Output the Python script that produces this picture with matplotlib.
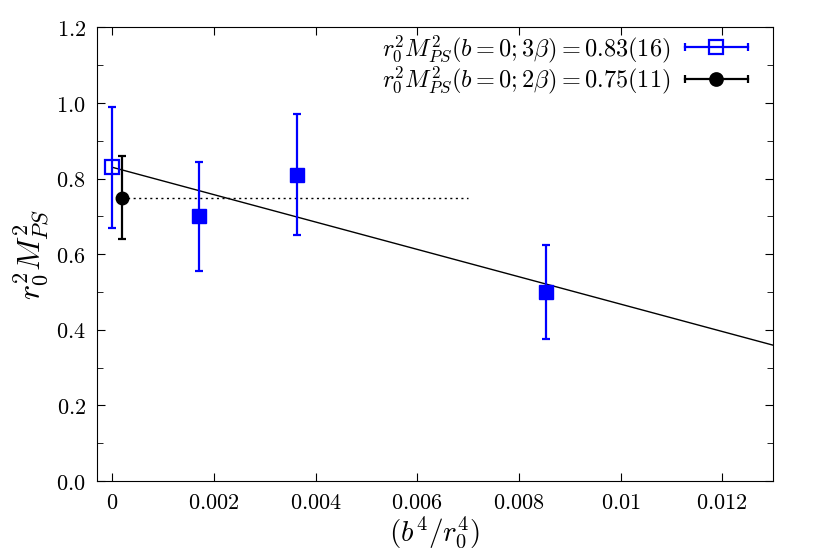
import matplotlib
matplotlib.use("Agg")
import matplotlib.pyplot as plt
import numpy as np
from matplotlib.ticker import MultipleLocator, FuncFormatter
from matplotlib.legend_handler import HandlerBase
from matplotlib.lines import Line2D

plt.rcParams['mathtext.fontset'] = 'cm'
plt.rcParams['font.family'] = ['DejaVu Serif']

# Data
x_3beta = [0.0]
y_3beta = [0.83]
e_3beta = [0.16]

x_2beta = [0.0002]
y_2beta = [0.75]
e_2beta = [0.11]

x_fin = [0.00171, 0.00364, 0.00853]
y_fin = [0.70, 0.81, 0.50]
e_fin = [0.145, 0.16, 0.125]

fit_intercept = 0.83
fit_slope = -36.2
fit_x = [0.0, 0.013]
const_val = 0.75
const_x = [0.0002, 0.007]

label_3 = r'$r_0^2M_{PS}^2(b=0;3\beta)=0.83(16)$'
label_2 = r'$r_0^2M_{PS}^2(b=0;2\beta)=0.75(11)$'


class HorizErrHandler(HandlerBase):
    def __init__(self, color, marker, mfc, ms):
        super().__init__()
        self.color = color
        self.marker = marker
        self.mfc = mfc
        self.ms = ms

    def create_artists(self, legend, orig_handle, xdescent, ydescent, width,
                       height, fontsize, trans):
        y = height / 2.0 - ydescent
        x0 = -xdescent
        x1 = -xdescent + width
        line = Line2D([x0, x1], [y, y], color=self.color, lw=1.6)
        caps = Line2D([x0, x1], [y, y], ls='none', marker='|', ms=6,
                      mew=1.6, color=self.color)
        mk = Line2D([(x0 + x1) / 2], [y], ls='none', marker=self.marker,
                    ms=self.ms, mfc=self.mfc, mec=self.color, mew=1.6,
                    color=self.color)
        arts = [line, caps, mk]
        for a in arts:
            a.set_transform(trans)
        return arts


fig = plt.figure(figsize=(8.15, 5.55), dpi=100)
ax = fig.add_axes([0.119, 0.1333, 0.8295, 0.8173])

fx = np.array(fit_x)
ax.plot(fx, fit_intercept + fit_slope * fx, color='black', lw=1.0, zorder=1)
ax.plot(const_x, [const_val, const_val], color='black', lw=1.0, ls=(0, (1.5, 2.5)), zorder=1)

ax.errorbar(x_fin, y_fin, yerr=e_fin, fmt='s', color='blue', ms=9.5,
            capsize=3, elinewidth=1.6, capthick=1.6, zorder=3)
h3 = ax.errorbar(x_3beta, y_3beta, yerr=e_3beta, fmt='s', color='blue', mfc='none',
                 mew=1.6, ms=10, capsize=3, elinewidth=1.6, capthick=1.6, label=label_3, zorder=3)
h2 = ax.errorbar(x_2beta, y_2beta, yerr=e_2beta, fmt='o', color='black', ms=9,
                 capsize=3, elinewidth=1.6, capthick=1.6, label=label_2, zorder=3)

ax.set_xlim(-0.0003, 0.013)
ax.set_ylim(0.0, 1.2)
ax.xaxis.set_major_locator(MultipleLocator(0.002))
ax.yaxis.set_major_locator(MultipleLocator(0.2))
ax.yaxis.set_minor_locator(MultipleLocator(0.1))
ax.tick_params(which='both', direction='in', top=True, right=True, labelsize=16)
ax.tick_params(which='major', length=6, pad=8)
ax.tick_params(which='minor', length=4)

def fmt(v, pos):
    s = ('%.3f' % v).rstrip('0').rstrip('.')
    if abs(v) < 1e-12:
        s = '0'
    return r'$%s$' % s
def fmty(v, pos):
    return r'$%.1f$' % v
ax.xaxis.set_major_formatter(FuncFormatter(fmt))
ax.yaxis.set_major_formatter(FuncFormatter(fmty))

ax.set_xlabel(r'$(b^4/r_0^4)$', fontsize=21, labelpad=0)
ax.set_ylabel(r'$r_0^2M_{PS}^2$', fontsize=23, labelpad=4)

leg = ax.legend(handles=[h3, h2], loc='upper right', markerfirst=False, frameon=False,
                fontsize=17.5, handlelength=2.6, borderaxespad=0, borderpad=0,
                labelspacing=0.0, handletextpad=0.6,
                bbox_to_anchor=(748 / 815, 1 - 33 / 555), bbox_transform=fig.transFigure,
                handler_map={h3: HorizErrHandler('blue', 's', 'none', 10),
                             h2: HorizErrHandler('black', 'o', 'black', 9)})

fig.savefig('out.png', dpi=100)
